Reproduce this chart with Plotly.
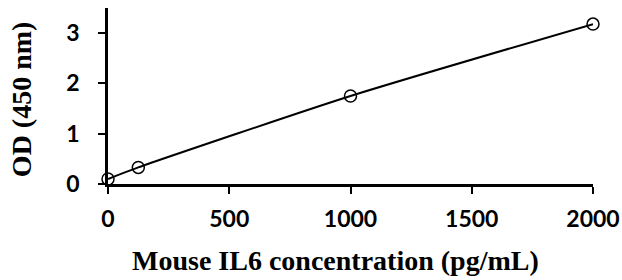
import plotly.graph_objects as go

conc = [0, 125, 1000, 2000]
od = [0.10, 0.33, 1.75, 3.18]
x_ticks = [0, 500, 1000, 1500, 2000]
y_ticks = [0, 1, 2, 3]

fig = go.Figure()
fig.add_trace(go.Scatter(
    x=conc, y=od, mode="lines+markers",
    line=dict(color="black", width=2, shape="spline", smoothing=0.6),
    marker=dict(symbol="circle-open", size=12, color="black", line=dict(width=1.5)),
    cliponaxis=False, showlegend=False,
))

tickfont = dict(family="Lato", size=23, color="black", weight="bold")
titlefont = dict(family="Liberation Serif", size=28, color="black", weight="bold")

fig.update_layout(
    width=622, height=280,
    margin=dict(l=108, r=29, t=8, b=96),
    plot_bgcolor="white", paper_bgcolor="white",
    xaxis=dict(range=[0, 2000], tickvals=x_ticks, ticks="outside", ticklen=7, tickwidth=2,
               showline=True, linewidth=2.5, linecolor="black", tickcolor="black",
               showgrid=False, zeroline=False, tickfont=tickfont, automargin=False,
               ticklabelstandoff=6, ticklabeloverflow="allow"),
    yaxis=dict(range=[0, 3.5], tickvals=y_ticks, ticks="outside", ticklen=7, tickwidth=2,
               showline=True, linewidth=2.5, linecolor="black", tickcolor="black",
               showgrid=False, zeroline=False, tickfont=tickfont, automargin=False,
               ticklabelstandoff=14, ticklabeloverflow="allow"),
    annotations=[
        dict(text="Mouse IL6 concentration (pg/mL)", xref="paper", yref="paper",
             x=0.47, y=-0.432, xanchor="center", yanchor="middle", showarrow=False, font=titlefont),
        dict(text="OD (450 nm)", xref="paper", yref="paper", textangle=-90,
             x=-0.177, y=0.483, xanchor="center", yanchor="middle", showarrow=False, font=titlefont),
    ],
)
fig.write_html("out.html", config={"displayModeBar": False},
               post_script="document.body.style.margin='0';")
